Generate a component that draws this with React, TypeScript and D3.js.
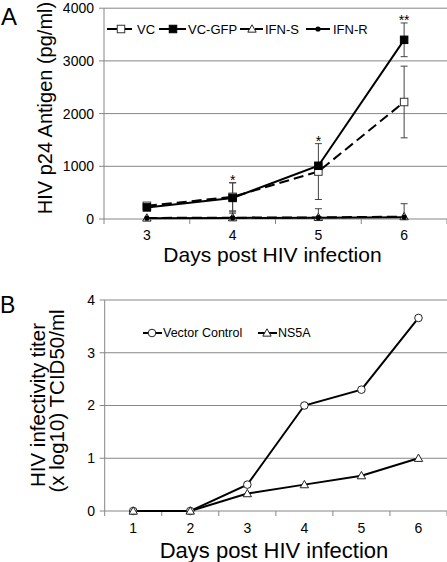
import React from "react";
import * as d3 from "d3";

// ---------- Panel A data ----------
const daysA = ["3", "4", "5", "6"];
const vcValues = [250, 420, 900, 2220];
const vcErrors = [0, 265, 530, 680];
const vcGfpValues = [220, 400, 1010, 3400];
const vcGfpErrors = [0, 290, 0, 320];
const ifnSValues = [20, 25, 30, 45];
const ifnSErrors = [0, 110, 165, 245];
const ifnRValues = [15, 20, 25, 35];
const ifnRErrors = [0, 0, 0, 0];
const starLabels = ["", "*", "*", "**"];
const yTicksA = [0, 1000, 2000, 3000, 4000];

// ---------- Panel B data ----------
const daysB = ["1", "2", "3", "4", "5", "6"];
const vectorControlValues = [0, 0, 0.5, 2.0, 2.3, 3.66];
const ns5aValues = [0, 0, 0.33, 0.5, 0.67, 1.0];
const yTicksB = [0, 1, 2, 3, 4];

const FONT = "'Liberation Sans', Arial, Helvetica, sans-serif";
const GRID = "#868686";
const AXIS = "#868686";

type Marker = "openSquare" | "filledSquare" | "openTriangle" | "filledCircle" | "openCircle";

function MarkerShape({ kind, x, y }: { kind: Marker; x: number; y: number }) {
  if (kind === "openSquare" || kind === "filledSquare") {
    const s = 7.5;
    return (
      <rect
        x={x - s / 2}
        y={y - s / 2}
        width={s}
        height={s}
        fill={kind === "filledSquare" ? "#000" : "#fff"}
        stroke={kind === "filledSquare" ? "#000" : "#333"}
        strokeWidth={1}
      />
    );
  }
  if (kind === "openTriangle") {
    const s = 4.2;
    const p = `M${x},${y - s} L${x + s},${y + s * 0.75} L${x - s},${y + s * 0.75} Z`;
    return <path d={p} fill="#fff" stroke="#222" strokeWidth={1} />;
  }
  if (kind === "filledCircle") {
    return <circle cx={x} cy={y} r={2.6} fill="#000" />;
  }
  return <circle cx={x} cy={y} r={3.8} fill="#fff" stroke="#222" strokeWidth={1} />;
}

function PanelA() {
  const left = 104;
  const right = 447;
  const top = 8.2;
  const bottom = 219;
  const x = d3.scaleBand<string>().domain(daysA).range([left, right]);
  const y = d3.scaleLinear().domain([0, 4000]).range([bottom, top]);
  const cx = (d: string) => (x(d) as number) + x.bandwidth() / 2;

  const series = [
    { name: "VC", values: vcValues, errors: vcErrors, dash: "10,5", marker: "openSquare" as Marker },
    { name: "VC-GFP", values: vcGfpValues, errors: vcGfpErrors, dash: "", marker: "filledSquare" as Marker },
    { name: "IFN-S", values: ifnSValues, errors: ifnSErrors, dash: "10,5", marker: "openTriangle" as Marker },
    { name: "IFN-R", values: ifnRValues, errors: ifnRErrors, dash: "", marker: "filledCircle" as Marker },
  ];

  const line = d3
    .line<number>()
    .x((_, i) => cx(daysA[i]))
    .y((v) => y(v));

  const legendPos = [
    { x1: 107, x2: 134, mx: 121, tx: 137 },
    { x1: 159, x2: 186, mx: 173, tx: 188 },
    { x1: 240, x2: 263, mx: 252, tx: 265 },
    { x1: 306, x2: 330, mx: 318, tx: 333 },
  ];

  const boundaries = [...daysA.map((d) => x(d) as number), right];

  return (
    <g>
      <text x={1} y={25} fontSize={24} fontFamily={FONT} fill="#000">A</text>
      {yTicksA.filter((t) => t > 0).map((t) => (
        <line key={t} x1={left} x2={right} y1={y(t)} y2={y(t)} stroke={GRID} strokeWidth={1} />
      ))}
      <line x1={left} x2={left} y1={top} y2={bottom} stroke={AXIS} />
      <line x1={left} x2={right} y1={bottom} y2={bottom} stroke={AXIS} />
      {yTicksA.map((t) => (
        <g key={t}>
          <line x1={left - 5} x2={left} y1={y(t)} y2={y(t)} stroke={AXIS} />
          <text x={94} y={y(t)} dy="0.35em" textAnchor="end" fontSize={14} fontFamily={FONT} fill="#000">{t}</text>
        </g>
      ))}
      {boundaries.map((b, i) => (
        <line key={i} x1={b} x2={b} y1={bottom} y2={bottom + 5} stroke={AXIS} />
      ))}
      {daysA.map((d) => (
        <text key={d} x={cx(d)} y={240} textAnchor="middle" fontSize={14} fontFamily={FONT} fill="#000">{d}</text>
      ))}
      <text x={(left + right) / 2 - 3} y={262} textAnchor="middle" fontSize={21} fontFamily={FONT} fill="#000">
        Days post HIV infection
      </text>
      <text
        transform={`translate(52, 108) rotate(-90)`}
        textAnchor="middle"
        fontSize={20}
        fontFamily={FONT}
        fill="#000"
      >
        HIV p24 Antigen (pg/ml)
      </text>

      {series.map((s) =>
        s.values.map((v, i) => {
          const e = s.errors[i];
          if (!e) return null;
          const px = cx(daysA[i]);
          const lo = Math.max(0, v - e);
          const hi = v + e;
          return (
            <g key={s.name + i} stroke="#444" strokeWidth={1}>
              <line x1={px} x2={px} y1={y(lo)} y2={y(hi)} />
              <line x1={px - 3.5} x2={px + 3.5} y1={y(hi)} y2={y(hi)} />
              {v - e > 0 && <line x1={px - 3.5} x2={px + 3.5} y1={y(lo)} y2={y(lo)} />}
            </g>
          );
        })
      )}

      {series.map((s) => (
        <path
          key={s.name}
          d={line(s.values) as string}
          fill="none"
          stroke="#000"
          strokeWidth={2}
          strokeDasharray={s.dash || undefined}
        />
      ))}
      {series.map((s) =>
        s.values.map((v, i) => <MarkerShape key={s.name + "m" + i} kind={s.marker} x={cx(daysA[i])} y={y(v)} />)
      )}

      {starLabels.map((lab, i) => {
        if (!lab) return null;
        const hi = Math.max(vcValues[i] + vcErrors[i], vcGfpValues[i] + vcGfpErrors[i]);
        return (
          <text key={"s" + i} x={cx(daysA[i])} y={y(hi) + 2.5} textAnchor="middle" fontSize={14} fontFamily={FONT} fill="#000">
            {lab}
          </text>
        );
      })}

      {series.map((s, i) => {
        const p = legendPos[i];
        return (
          <g key={"lg" + s.name}>
            <line x1={p.x1} x2={p.x2} y1={29} y2={29} stroke="#000" strokeWidth={2} strokeDasharray={s.dash || undefined} />
            <MarkerShape kind={s.marker} x={p.mx} y={29} />
            <text x={p.tx} y={29} dy="0.35em" fontSize={13} fontFamily={FONT} fill="#000">{s.name}</text>
          </g>
        );
      })}
    </g>
  );
}

function PanelB() {
  const left = 104.7;
  const right = 447;
  const top = 300;
  const bottom = 511;
  const x = d3.scaleBand<string>().domain(daysB).range([left, right]);
  const y = d3.scaleLinear().domain([0, 4]).range([bottom, top]);
  const cx = (d: string) => (x(d) as number) + x.bandwidth() / 2;

  const line = d3
    .line<number>()
    .x((_, i) => cx(daysB[i]))
    .y((v) => y(v));

  const series = [
    { name: "Vector Control", values: vectorControlValues, marker: "openCircle" as Marker },
    { name: "NS5A", values: ns5aValues, marker: "openTriangle" as Marker },
  ];
  const legendPos = [
    { x1: 143, x2: 162, mx: 152, tx: 163 },
    { x1: 258, x2: 277, mx: 267, tx: 278 },
  ];
  const boundaries = [...daysB.map((d) => x(d) as number), right];

  return (
    <g>
      <text x={0} y={313} fontSize={23} fontFamily={FONT} fill="#000">B</text>
      {yTicksB.filter((t) => t > 0).map((t) => (
        <line key={t} x1={left} x2={right} y1={y(t)} y2={y(t)} stroke={GRID} strokeWidth={1} />
      ))}
      <line x1={left} x2={left} y1={top} y2={bottom} stroke={AXIS} />
      <line x1={left} x2={right} y1={bottom} y2={bottom} stroke={AXIS} />
      {yTicksB.map((t) => (
        <g key={t}>
          <line x1={left - 5} x2={left} y1={y(t)} y2={y(t)} stroke={AXIS} />
          <text x={95} y={y(t)} dy="0.35em" textAnchor="end" fontSize={14} fontFamily={FONT} fill="#000">{t}</text>
        </g>
      ))}
      {boundaries.map((b, i) => (
        <line key={i} x1={b} x2={b} y1={bottom} y2={bottom + 5} stroke={AXIS} />
      ))}
      {daysB.map((d) => (
        <text key={d} x={cx(d)} y={533} textAnchor="middle" fontSize={14} fontFamily={FONT} fill="#000">{d}</text>
      ))}
      <text x={274} y={558} textAnchor="middle" fontSize={22} fontFamily={FONT} fill="#000">
        Days post HIV infection
      </text>
      <text transform={`translate(45, 405) rotate(-90)`} textAnchor="middle" fontSize={20.5} fontFamily={FONT} fill="#000">
        HIV infectivity titer
      </text>
      <text transform={`translate(64, 401) rotate(-90)`} textAnchor="middle" fontSize={20.5} fontFamily={FONT} fill="#000">
        (x log10) TCID50/ml
      </text>

      {series.map((s) => (
        <path key={s.name} d={line(s.values) as string} fill="none" stroke="#000" strokeWidth={2} />
      ))}
      {series.map((s) =>
        s.values.map((v, i) => <MarkerShape key={s.name + i} kind={s.marker} x={cx(daysB[i])} y={y(v)} />)
      )}

      {series.map((s, i) => {
        const p = legendPos[i];
        return (
          <g key={"lg" + s.name}>
            <line x1={p.x1} x2={p.x2} y1={333} y2={333} stroke="#000" strokeWidth={2} />
            <MarkerShape kind={s.marker} x={p.mx} y={333} />
            <text x={p.tx} y={333} dy="0.35em" fontSize={12.5} fontFamily={FONT} fill="#000">{s.name}</text>
          </g>
        );
      })}
    </g>
  );
}

export default function App() {
  return (
    <svg
      width={447}
      height={562}
      viewBox="0 0 447 562"
      style={{ position: "absolute", left: 0, top: 0, display: "block", background: "#fff" }}
    >
      <rect width={447} height={562} fill="#fff" />
      <PanelA />
      <PanelB />
    </svg>
  );
}
